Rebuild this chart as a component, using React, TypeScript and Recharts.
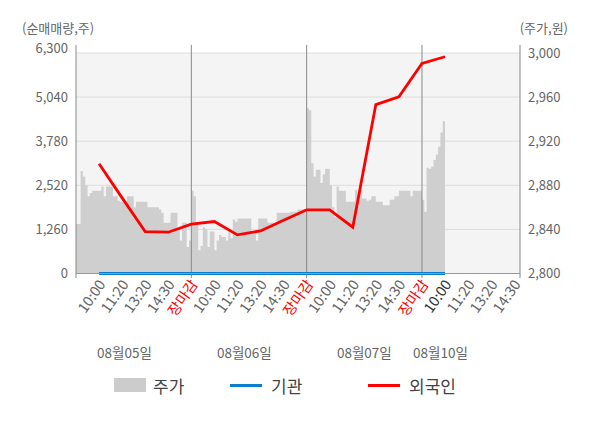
import {
  ComposedChart, Area, Line, XAxis, YAxis, CartesianGrid, ReferenceLine
} from 'recharts'

// 주가 per day, sampled every 0.1 slot (5 slots per trading day)
const DAY1_PRICE = [2845, 2845, 2893, 2888, 2880, 2870, 2873, 2875, 2875, 2875, 2875, 2879, 2870, 2879, 2879, 2879, 2870, 2870, 2866, 2865, 2865, 2865, 2870, 2870, 2870, 2860, 2865, 2865, 2865, 2865, 2865, 2860, 2860, 2860, 2860, 2860, 2858, 2855, 2846, 2846, 2846, 2855, 2855, 2855, 2840, 2830, 2846, 2846, 2824, 2830]
const DAY2_PRICE = [2875, 2870, 2845, 2821, 2825, 2842, 2840, 2824, 2838, 2838, 2821, 2830, 2835, 2833, 2833, 2830, 2840, 2832, 2849, 2847, 2850, 2850, 2850, 2850, 2850, 2850, 2838, 2838, 2830, 2850, 2850, 2850, 2850, 2846, 2846, 2846, 2846, 2855, 2855, 2855, 2855, 2855, 2855, 2856, 2856, 2856, 2858, 2858, 2858, 2858]
const DAY3_PRICE = [2950, 2948, 2900, 2888, 2894, 2894, 2882, 2890, 2895, 2895, 2880, 2860, 2851, 2879, 2875, 2875, 2875, 2865, 2865, 2865, 2865, 2876, 2870, 2876, 2868, 2868, 2866, 2867, 2870, 2870, 2865, 2865, 2865, 2862, 2862, 2862, 2867, 2867, 2870, 2870, 2875, 2875, 2875, 2875, 2875, 2870, 2875, 2875, 2875, 2875]
const DAY4_PRICE = [2867, 2856, 2896, 2895, 2897, 2903, 2908, 2915, 2928, 2938, 2942]
const DAY_PRICES = [DAY1_PRICE, DAY2_PRICE, DAY3_PRICE, DAY4_PRICE]

// 순매매량 at slots 1..16
const FOREIGN = [3136, 2160, 1197, 1180, 1409, 1484, 1103, 1217, 1524, 1819, 1819, 1323, 4826, 5046, 6000, 6192]
const INSTITUTION = [0, 0, 0, 0, 0, 0, 0, 0, 0, 0, 0, 0, 0, 0, 0, 0]

const TIME_LABELS = ['10:00', '11:20', '13:20', '14:30', '장마감', '10:00', '11:20', '13:20', '14:30', '장마감', '10:00', '11:20', '13:20', '14:30', '장마감', '10:00', '11:20', '13:20', '14:30']
const TIME_TICKS = [1, 2, 3, 4, 5, 6, 7, 8, 9, 10, 11, 12, 13, 14, 15, 16, 17, 18, 19]
const CURRENT_TICK = 16
const DATE_LABELS = ['08월05일', '08월06일', '08월07일', '08월10일']
const DATE_TICKS = [2.1, 7.3, 12.5, 15.8]
const DAY_LINES = [0, 5, 10, 15]
const X_MAX = 19.25

const LEFT_TICKS = [0, 1260, 2520, 3780, 5040, 6300]
const RIGHT_TICKS = [2800, 2840, 2880, 2920, 2960, 3000]

type Row = { idx: number; price?: number; foreign?: number; inst?: number }

function buildRows(): Row[] {
  const map = new Map<number, Row>()
  const put = (t: number, key: 'price' | 'foreign' | 'inst', v: number) => {
    const r = map.get(t) ?? { idx: t / 10 }
    r[key] = v
    map.set(t, r)
  }
  DAY_PRICES.forEach((arr, d) => arr.forEach((p, k) => put(d * 50 + k, 'price', p)))
  FOREIGN.forEach((v, i) => put((i + 1) * 10, 'foreign', v))
  INSTITUTION.forEach((v, i) => put((i + 1) * 10, 'inst', v))
  return [...map.values()].sort((a, b) => a.idx - b.idx)
}

const data = buildRows()
const FONT = '"Noto Sans CJK KR", "Noto Sans", sans-serif'
const fmt = (v: number) => v.toLocaleString('en-US')

function TimeTick({ x, y, payload }: any) {
  const i = TIME_TICKS.indexOf(payload.value)
  const label = TIME_LABELS[i]
  const color = label === '장마감' ? '#ff0000' : payload.value === CURRENT_TICK ? '#333' : '#666'
  return (
    <g transform={`translate(${x + 3},${y})`}>
      <text transform="rotate(-55)" textAnchor="end" dy="0.35em" fontSize={14.5} fill={color} fontFamily={FONT}>
        {label}
      </text>
    </g>
  )
}

function LeftTick({ x, y, payload }: any) {
  const top = payload.value === 6300
  return (
    <text x={x} y={y + (top ? -5 : 0)} dy="0.35em" textAnchor="end" fontSize={13} fill="#666" fontFamily={FONT}>
      {fmt(payload.value)}
    </text>
  )
}

export default function App() {
  return (
    <div style={{ position: 'absolute', left: 0, top: 0, width: 600, height: 428, fontFamily: FONT }}>
      <div style={{ position: 'absolute', left: 22, top: 21, fontSize: 13, lineHeight: '13px', color: '#666' }}>(순매매량,주)</div>
      <div style={{ position: 'absolute', right: 32, top: 21, fontSize: 13, lineHeight: '13px', color: '#666' }}>(주가,원)</div>
      <ComposedChart width={600} height={428} data={data} margin={{ top: 53, right: 0, bottom: 64.5, left: 0 }}>
        <CartesianGrid xAxisId="a" yAxisId="left" vertical={false} stroke="#dddddd" fill="#f4f4f4" />
        <XAxis xAxisId="a" dataKey="idx" type="number" domain={[0, X_MAX]} ticks={TIME_TICKS} interval={0}
          tick={<TimeTick />} tickLine={false} tickSize={0} tickMargin={8} axisLine={{ stroke: '#999' }} height={60} />
        <XAxis xAxisId="b" dataKey="idx" type="number" domain={[0, X_MAX]} ticks={DATE_TICKS} interval={0}
          tickFormatter={(v: number) => DATE_LABELS[DATE_TICKS.indexOf(v)]} tickLine={false} axisLine={false}
          tickSize={0} tickMargin={15} height={30} tick={{ fontSize: 13.5, fill: '#666', fontFamily: FONT }} />
        <YAxis yAxisId="left" domain={[0, 6300]} ticks={LEFT_TICKS} interval={0} axisLine={false} tickLine={false}
          width={76} tick={<LeftTick />} />
        <YAxis yAxisId="right" orientation="right" domain={[2800, 3000]} ticks={RIGHT_TICKS} interval={0}
          axisLine={false} tickLine={false} width={80} tickFormatter={fmt}
          tick={{ fontSize: 13, fill: '#666', fontFamily: FONT }} />
        <Area xAxisId="a" yAxisId="right" dataKey="price" type="stepAfter" fill="#cfcfcf" fillOpacity={1}
          stroke="none" isAnimationActive={false} />
        {[...DAY_LINES, X_MAX].map(v => (
          <ReferenceLine key={v} xAxisId="a" yAxisId="left" ifOverflow="visible" stroke="#888"
            segment={[{ x: v, y: -130 }, { x: v, y: 6530 }]} />
        ))}
        <Line xAxisId="a" yAxisId="left" dataKey="inst" stroke="#0a7fcf" strokeWidth={3} dot={false}
          connectNulls isAnimationActive={false} />
        <Line xAxisId="a" yAxisId="left" dataKey="foreign" stroke="#ff0000" strokeWidth={2.8} dot={false}
          connectNulls isAnimationActive={false} />
      </ComposedChart>
      <div style={{ position: 'absolute', left: 114, top: 378, width: 32, height: 14, background: '#cccccc' }} />
      <div style={{ position: 'absolute', left: 153, top: 373, fontSize: 17, color: '#444' }}>주가</div>
      <div style={{ position: 'absolute', left: 230, top: 384, width: 32, height: 3, background: '#0a7fcf' }} />
      <div style={{ position: 'absolute', left: 271, top: 373, fontSize: 17, color: '#444' }}>기관</div>
      <div style={{ position: 'absolute', left: 368, top: 384, width: 32, height: 3, background: '#ff0000' }} />
      <div style={{ position: 'absolute', left: 409, top: 373, fontSize: 17, color: '#444' }}>외국인</div>
    </div>
  )
}
